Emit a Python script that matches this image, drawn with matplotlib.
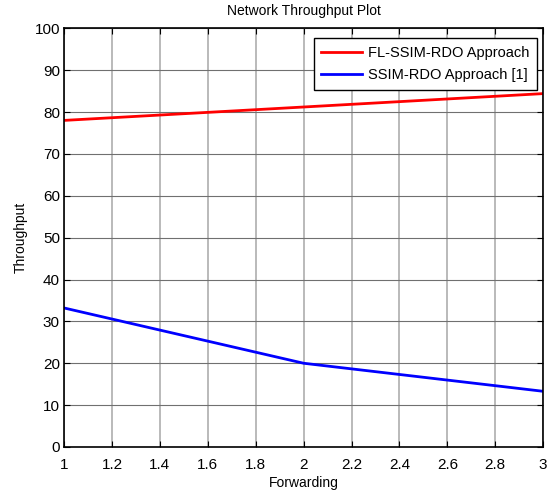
import matplotlib
matplotlib.use('Agg')
import matplotlib.pyplot as plt
import numpy as np

# data
forwarding = [1, 2, 3]
fl_ssim_rdo = [78.0, 81.2, 84.4]
ssim_rdo = [33.2, 20.0, 13.3]
x_ticks = [1, 1.2, 1.4, 1.6, 1.8, 2, 2.2, 2.4, 2.6, 2.8, 3]
y_ticks = [0, 10, 20, 30, 40, 50, 60, 70, 80, 90, 100]

plt.rcParams['font.family'] = ['Liberation Sans', 'DejaVu Sans']

fig = plt.figure(figsize=(5.5, 4.92), dpi=100)
ax = fig.add_axes([0.1165, 0.0915, 0.871, 0.851])

ax.plot(forwarding, fl_ssim_rdo, color='#ff0000', linewidth=2, label='FL-SSIM-RDO Approach')
ax.plot(forwarding, ssim_rdo, color='#0000ff', linewidth=2, label='SSIM-RDO Approach [1]')

ax.set_xlim(1, 3)
ax.set_ylim(0, 100)
ax.set_xticks(x_ticks)
ax.set_xticklabels(['1', '1.2', '1.4', '1.6', '1.8', '2', '2.2', '2.4', '2.6', '2.8', '3'])
ax.set_yticks(y_ticks)

# matlab-ish look: ticks inside on every side, grey grid
ax.set_axisbelow(True)
ax.yaxis.grid(True, color='#707070', linewidth=0.8)
ax.xaxis.grid(True, color='#b4b4b4', linewidth=1.3)
ax.tick_params(direction='in', top=True, right=True, labelsize=11, length=4)
ax.tick_params(axis='x', pad=8)
ax.tick_params(axis='y', pad=3)
for s in ax.spines.values():
    s.set_linewidth(1.2)

ax.set_xlabel('Forwarding', fontsize=10, labelpad=3)
ax.set_ylabel('Throughput', fontsize=10, labelpad=5)
ax.set_title('Network Throughput Plot', fontsize=10, pad=9.5)

leg = ax.legend(loc='upper right', bbox_to_anchor=(0.9875, 0.976), fontsize=10.5,
                fancybox=False, framealpha=1, edgecolor='black', borderaxespad=0,
                handlelength=2.8, handletextpad=0.45, borderpad=0.5, labelspacing=0.6)
leg.get_frame().set_linewidth(1.0)

fig.savefig('out.png', dpi=100)
